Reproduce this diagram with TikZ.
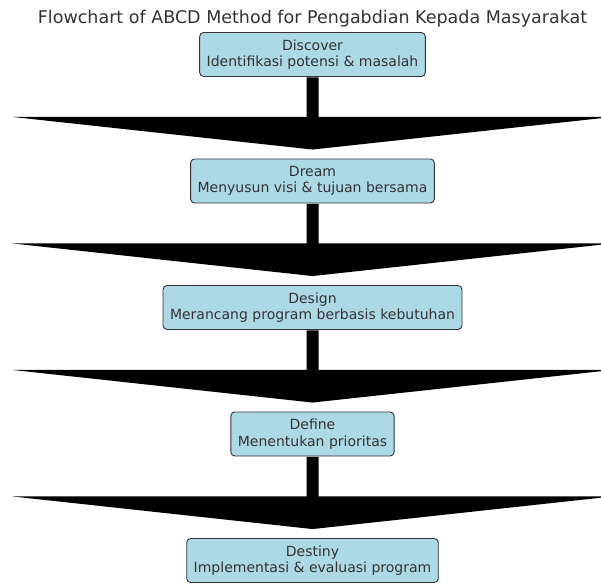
\documentclass[tikz,border=0pt]{standalone}
\usepackage{fontspec}
\setmainfont{DejaVu Sans}
\usetikzlibrary{calc}
\definecolor{boxfill}{HTML}{ADD8E6}
\definecolor{boxline}{HTML}{333333}
\definecolor{txt}{HTML}{333333}
\begin{document}
\begin{tikzpicture}[x=1pt,y=-1pt,
  stepbox/.style={draw=boxline, line width=0.9pt, fill=boxfill, rounded corners=4pt,
    align=center, inner xsep=7pt, inner ysep=0pt, minimum height=44pt,
    font=\fontsize{14}{16.5}\selectfont, text=txt},
  bigarrow/.style={fill=black}]
\useasboundingbox (0,0) rectangle (601,583);
\clip (0,0) rectangle (601,583);
\node[anchor=base, text=txt, font=\fontsize{17.5}{20}\selectfont] (title) at (312.5,24)
  {Flowchart of ABCD Method for Pengabdian Kepada Masyarakat};
\node[stepbox] (n1) at (312.5,54.5) {Discover\\Identifikasi potensi \& masalah};
\node[stepbox] (n2) at (312.5,181) {Dream\\Menyusun visi \& tujuan bersama};
\node[stepbox] (n3) at (312.5,307.5) {Design\\Merancang program berbasis kebutuhan};
\node[stepbox] (n4) at (312.5,434) {Define\\Menentukan prioritas};
\node[stepbox] (n5) at (312.5,560.5) {Destiny\\Implementasi \& evaluasi program};
\foreach \a/\b in {n1/n2,n2/n3,n3/n4,n4/n5}{
  \fill[bigarrow] ($(\a.south)+(-6,0.5)$) -- ($(\a.south)+(6,0.5)$) -- ($(\a.south)+(6,40)$)
    -- ($(\a.south)+(300,40)$) -- ($(\b.north)+(0,-9)$) -- ($(\a.south)+(-300,40)$)
    -- ($(\a.south)+(-6,40)$) -- cycle;
}
\end{tikzpicture}
\end{document}
